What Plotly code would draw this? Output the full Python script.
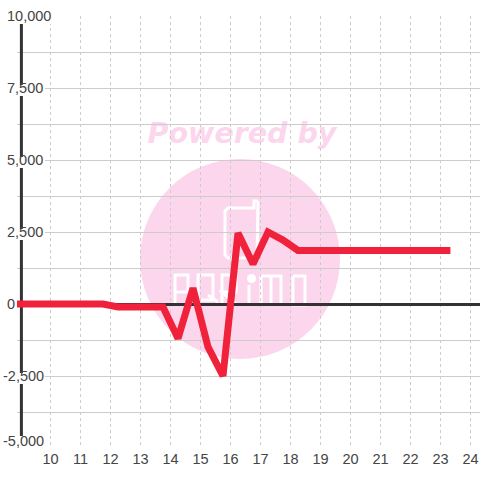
import plotly.graph_objects as go

hours = [8.75, 9.25, 9.75, 10.25, 10.75, 11.25, 11.75, 12.25, 12.75, 13.25, 13.75, 14.25, 14.75,
         15.25, 15.75, 16.25, 16.75, 17.25, 17.75, 18.25, 18.75, 19.25, 19.75, 20.25, 20.75,
         21.25, 21.75, 22.25, 22.75, 23.33]
values = [0, 0, 0, 0, 0, 0, 0, -100, -100, -100, -100, -1200, 550, -1490, -2500, 2465, 1390, 2500,
          2220, 1860, 1860, 1860, 1860, 1860, 1860, 1860, 1860, 1860, 1860, 1860]
y_ticks = [10000, 7500, 5000, 2500, 0, -2500, -5000]
y_labels = ["10,000", "7,500", "5,000", "2,500", "0", "-2,500", "-5,000"]
x_ticks = list(range(10, 25))

L, R, T, B = 17, 480, 16, 448
W, H = R - L, B - T
px = lambda x: (x - L) / W
py = lambda y: (B - y) / H
PINK = "#fbd6ec"
INK = "#444444"

def path(points):
    return "M" + " L".join(f"{px(x):.4f},{py(y):.4f}" for x, y in points)

logo = [
    [(258, 201), (257, 258), (228, 258), (225, 255), (225, 211), (228, 208), (254, 208), (254, 201), (258, 201)],
    [(175, 305), (175, 275), (188, 275), (188, 292), (175, 292)],
    [(198, 305), (198, 275), (213, 275), (213, 300), (198, 300)],
    [(208, 295), (218, 302)],
    [(222, 305), (222, 275), (236, 275), (236, 292), (222, 292), (237, 305)],
    [(249, 285), (249, 305)],
    [(261, 305), (261, 276), (281, 276), (281, 305)],
    [(271, 276), (271, 305)],
    [(293, 276), (305, 276), (305, 305), (293, 305), (293, 276)],
]

shapes = [dict(type="circle", xref="paper", yref="paper", layer="below",
               x0=px(140), x1=px(340), y0=py(359), y1=py(159),
               fillcolor=PINK, line_width=0)]
for pts in logo:
    shapes.append(dict(type="path", xref="paper", yref="paper", layer="below",
                       path=path(pts), line=dict(color="white", width=3)))
shapes.append(dict(type="circle", xref="paper", yref="paper", layer="below",
                   x0=px(247), x1=px(256), y0=py(283), y1=py(274),
                   fillcolor="white", line_width=0))
shapes.append(dict(type="rect", xref="paper", yref="paper", layer="below",
                   x0=px(140), x1=px(344), y0=py(147), y1=py(115),
                   line_width=0, fillcolor="rgba(0,0,0,0)",
                   label=dict(text="<b><i>Powered by</i></b>", textposition="middle center",
                              font=dict(family="DejaVu Sans", size=28.5, color=PINK))))
shapes.append(dict(type="line", xref="x", yref="y", layer="between",
                   x0=9.03, x1=9.03, y0=-5000, y1=10000,
                   line=dict(color="#333333", width=3)))

annotations = []
for v, t in zip(y_ticks, y_labels):
    neg = t.startswith("-")
    shift = 7 if v == -5000 else 0
    annotations.append(dict(xref="paper", yref="y", x=px(2.5 if neg else 7), y=v, text=t,
                            showarrow=False, xanchor="left", yanchor="middle",
                            xshift=0, yshift=shift, borderpad=0, borderwidth=0,
                            font=dict(family="Liberation Sans", size=14.5, color=INK)))
    if v != 0:
        right = 53 if len(t) == 6 and not neg else 45
        shapes.append(dict(type="rect", xref="paper", yref="y", layer="above",
                           x0=px(1), x1=px(right), ysizemode="pixel", yanchor=v,
                           y0=-8 if v != -5000 else 0,
                           y1=3 if v != -5000 else 12,
                           fillcolor="white", line_width=0))

fig = go.Figure(go.Scatter(x=hours, y=values, mode="lines",
                           line=dict(color="#f0213a", width=7, shape="linear"),
                           cliponaxis=True, hoverinfo="skip"))
fig.update_layout(
    width=480, height=480, showlegend=False,
    margin=dict(l=L, r=480 - R, t=T, b=480 - B, pad=0),
    paper_bgcolor="white", plot_bgcolor="rgba(0,0,0,0)",
    shapes=shapes, annotations=annotations,
    xaxis=dict(range=[10 + (L - 50.5) / 30, 10 + (R - 50.5) / 30],
               tickmode="array", tickvals=x_ticks, ticktext=[str(x) for x in x_ticks],
               showgrid=True, gridcolor="#cccccc", griddash="dot", gridwidth=1,
               zeroline=False, showline=False, ticks="",
               tickfont=dict(family="Liberation Sans", size=14.5, color=INK)),
    yaxis=dict(range=[-5000, 10000], tickmode="array",
               tickvals=list(range(-5000, 10001, 1250)), showticklabels=False,
               showgrid=True, gridcolor="#cccccc", gridwidth=1,
               zeroline=True, zerolinecolor="#333333", zerolinewidth=3, showline=False, ticks=""),
)
fig.write_html("out.html", config=dict(displayModeBar=False),
               post_script="document.body.style.margin='0';document.documentElement.style.overflow='hidden';")
